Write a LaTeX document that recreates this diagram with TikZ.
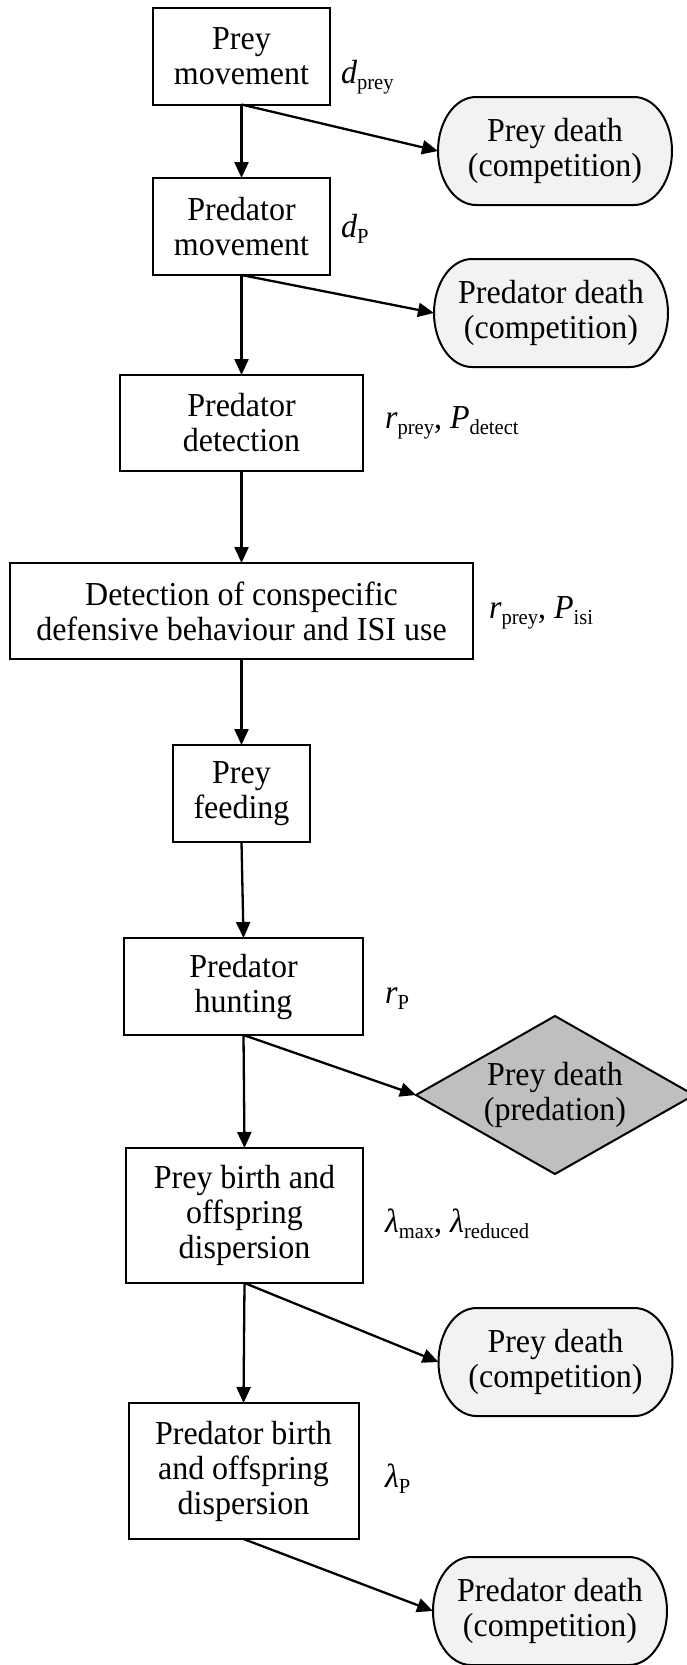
\documentclass[tikz,border=0pt]{standalone}
\usepackage{fontspec}
\setmainfont{Liberation Serif}[FakeStretch=0.955]
\usetikzlibrary{arrows.meta,shapes.geometric,backgrounds}
\definecolor{endfill}{HTML}{F2F2F2}
\definecolor{diamondfill}{HTML}{BFBFBF}
\newcommand{\lsub}[1]{\raisebox{-6pt}{\fontsize{21.5}{21.5}\selectfont #1}}
\newcommand{\ovalpath}[1]{%
  \path[ovalfill] ([xshift=38pt]#1.north west) -- ([xshift=-38pt]#1.north east)
    arc[start angle=90,end angle=-90,x radius=38pt,y radius=54pt]
    -- ([xshift=38pt]#1.south west)
    arc[start angle=270,end angle=90,x radius=38pt,y radius=54pt] -- cycle;}
\tikzset{
  every node/.style={font=\fontsize{33.5}{35}\selectfont, align=center, inner sep=0pt, outer sep=0pt},
  procbox/.style={draw, line width=2pt, fill=white},
  endbox/.style={minimum width=234pt, minimum height=108pt},
  ovalfill/.style={draw, line width=2pt, fill=endfill},
  param/.style={anchor=base west},
  flow/.style={line width=2.3pt, -{Triangle[length=16pt,width=14pt]}},
  gdiamond/.style={diamond, draw, line width=2pt, fill=diamondfill, aspect=1.76,
    minimum width=278pt, minimum height=158pt}
}
\begin{document}
\begin{tikzpicture}[x=1pt,y=-1pt]
\useasboundingbox (0,0) rectangle (687,1665);

\node[procbox, minimum width=177pt, minimum height=97pt] (pm) at (241.5,56) {Prey\\movement};
\node[procbox, minimum width=177pt, minimum height=97pt] (prm) at (241.5,226.5) {Predator\\movement};
\node[procbox, minimum width=243pt, minimum height=96pt] (pdet) at (241.5,423) {Predator\\detection};
\node[procbox, minimum width=463pt, minimum height=96pt] (det) at (241.5,611) {Detection of conspecific\\defensive behaviour and ISI use};
\node[procbox, minimum width=137pt, minimum height=97pt] (feed) at (241.5,793.5) {Prey\\feeding};
\node[procbox, minimum width=239pt, minimum height=97pt] (hunt) at (243.5,986.5) {Predator\\hunting};
\node[procbox, minimum width=237pt, minimum height=135pt] (pb) at (244.5,1215.5) {Prey birth and\\offspring\\dispersion};
\node[procbox, minimum width=230pt, minimum height=136pt] (qb) at (243.5,1471) {Predator birth\\and offspring\\dispersion};

\node[endbox] (d1) at (555,151) {Prey death\\(competition)};
\node[endbox] (d2) at (551,313) {Predator death\\(competition)};
\node[gdiamond] (d3) at (555,1095) {Prey death\\(predation)};
\node[endbox] (d4) at (555.5,1362) {Prey death\\(competition)};
\node[endbox] (d5) at (550,1611) {Predator death\\(competition)};

\begin{scope}[on background layer]
\foreach \n in {d1,d2,d4,d5} {\ovalpath{\n}}
\end{scope}

\node[param] (lpm) at (341,83) {\textit{d}\lsub{prey}};
\node[param] (lprm) at (341,237) {\textit{d}\lsub{P}};
\node[param] (lpdet) at (385,428) {\textit{r}\lsub{prey}, \textit{P}\lsub{detect}};
\node[param] (ldet) at (489,618) {\textit{r}\lsub{prey}, \textit{P}\lsub{isi}};
\node[param] (lhunt) at (385,1003) {\textit{r}\lsub{P}};
\node[param] (lpb) at (385,1232) {\textit{λ}\lsub{max}, \textit{λ}\lsub{reduced}};
\node[param] (lqb) at (385,1487) {\textit{λ}\lsub{P}};

\draw[flow] (pm.south) -- (prm.north);
\draw[flow] (pm.south) -- (d1.west);
\draw[flow] (prm.south) -- (pdet.north);
\draw[flow] (prm.south) -- (d2.west);
\draw[flow] (pdet.south) -- (det.north);
\draw[flow] (det.south) -- (feed.north);
\draw[flow] (feed.south) -- (hunt.north);
\draw[flow] (hunt.south) -- (d3.west);
\draw[flow] (hunt.south) -- (pb.north);
\draw[flow] (pb.south) -- (d4.west);
\draw[flow] (pb.south) -- (qb.north);
\draw[flow] (qb.south) -- (d5.west);
\end{tikzpicture}
\end{document}
